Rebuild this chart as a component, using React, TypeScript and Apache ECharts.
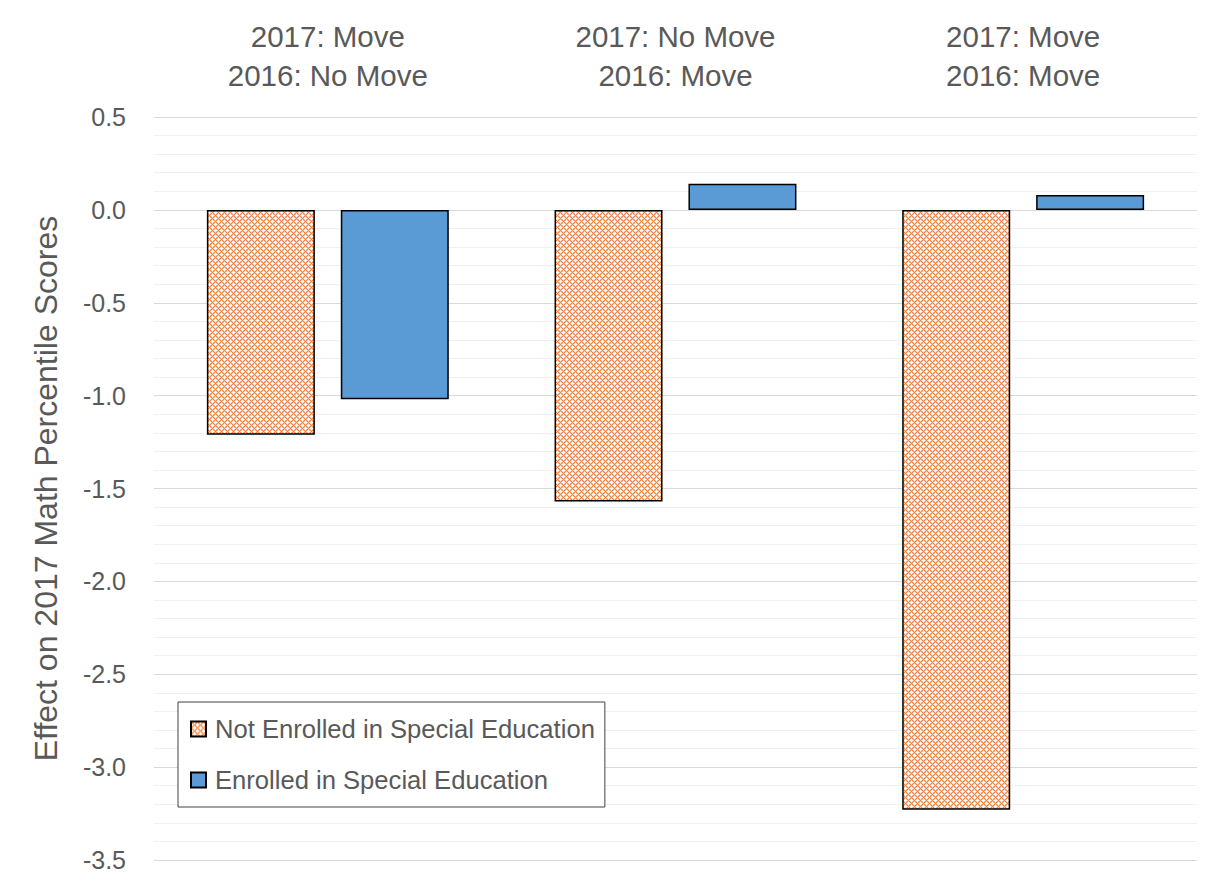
import React, { useEffect, useRef } from "react";
import * as echarts from "echarts";

const categories = ["2017: Move\n2016: No Move", "2017: No Move\n2016: Move", "2017: Move\n2016: Move"];
const notEnrolled = [-1.21, -1.57, -3.23];
const enrolled = [-1.02, 0.14, 0.08];
const seriesNames = ["Not Enrolled in Special Education", "Enrolled in Special Education"];
const yTicks = { min: -3.5, max: 0.5, interval: 0.5 };
const yAxisTitle = "Effect on 2017 Math Percentile Scores";

const FONT = "'Liberation Sans', Arial, sans-serif";
const TEXT = "#595959";

function makePattern(): string {
  const n = 6;
  const c = document.createElement("canvas");
  c.width = n;
  c.height = n;
  const ctx = c.getContext("2d")!;
  for (let y = 0; y < n; y++) {
    for (let x = 0; x < n; x++) {
      let col = "#F7C9A8";
      if ((x + y) % n === 0 || (x - y + n) % n === 0) col = "#EB8444";
      ctx.fillStyle = col;
      ctx.fillRect(x, y, 1, 1);
    }
  }
  const plus = (cx: number, cy: number) => {
    const pts = [[0, 0], [1, 0], [-1, 0], [0, 1], [0, -1]];
    ctx.fillStyle = "#FFFFFF";
    pts.forEach(([dx, dy]) => ctx.fillRect((cx + dx + n) % n, (cy + dy + n) % n, 1, 1));
  };
  plus(3, 0);
  plus(0, 3);
  return c.toDataURL();
}

export default function App() {
  const ref = useRef<HTMLDivElement>(null);
  useEffect(() => {
    if (!ref.current) return;
    const chart = echarts.init(ref.current, undefined, { renderer: "svg" });
    const pattern = { image: makePattern(), repeat: "repeat" };
    chart.setOption({
      animation: false,
      backgroundColor: "#fff",
      grid: { left: 146, right: 10, top: 109, bottom: 16 },
      legend: {
        orient: "vertical",
        left: 170,
        top: 694,
        backgroundColor: "#fff",
        borderColor: "#404040",
        borderWidth: 1,
        padding: [14, 10, 14, 12],
        itemGap: 25,
        itemWidth: 15,
        itemHeight: 15,
        icon: "rect",
        textStyle: { fontFamily: FONT, fontSize: 25.6, color: TEXT, padding: [0, 0, 0, 4] },
        data: seriesNames,
      },
      xAxis: {
        type: "category",
        position: "top",
        data: categories,
        axisLine: { show: false },
        axisTick: { show: false },
        axisLabel: {
          fontFamily: FONT,
          fontSize: 29.5,
          lineHeight: 39,
          color: TEXT,
          margin: 22,
          interval: 0,
        },
      },
      yAxis: {
        type: "value",
        min: yTicks.min,
        max: yTicks.max,
        interval: yTicks.interval,
        name: yAxisTitle,
        nameLocation: "middle",
        nameGap: 92,
        nameTextStyle: { fontFamily: FONT, fontSize: 32, color: TEXT },
        axisLine: { show: false },
        axisTick: { show: false },
        axisLabel: {
          fontFamily: FONT,
          fontSize: 25,
          color: TEXT,
          margin: 28,
          formatter: (v: number) => v.toFixed(1),
        },
        splitLine: { show: true, lineStyle: { color: "#D9D9D9", width: 1 } },
        minorTick: { show: false, splitNumber: 5 },
        minorSplitLine: { show: true, lineStyle: { color: "#F0F0F0", width: 1 } },
      },
      series: [
        {
          name: seriesNames[0],
          type: "bar",
          data: notEnrolled,
          barWidth: 108,
          barGap: "24%",
          itemStyle: { color: pattern, borderColor: "#000", borderWidth: 1.5 },
        },
        {
          name: seriesNames[1],
          type: "bar",
          data: enrolled,
          barWidth: 108,
          barGap: "24%",
          itemStyle: { color: "#5B9BD5", borderColor: "#000", borderWidth: 1.5 },
        },
      ],
    });
    return () => chart.dispose();
  }, []);
  return <div ref={ref} style={{ width: 1199, height: 868 }} />;
}
